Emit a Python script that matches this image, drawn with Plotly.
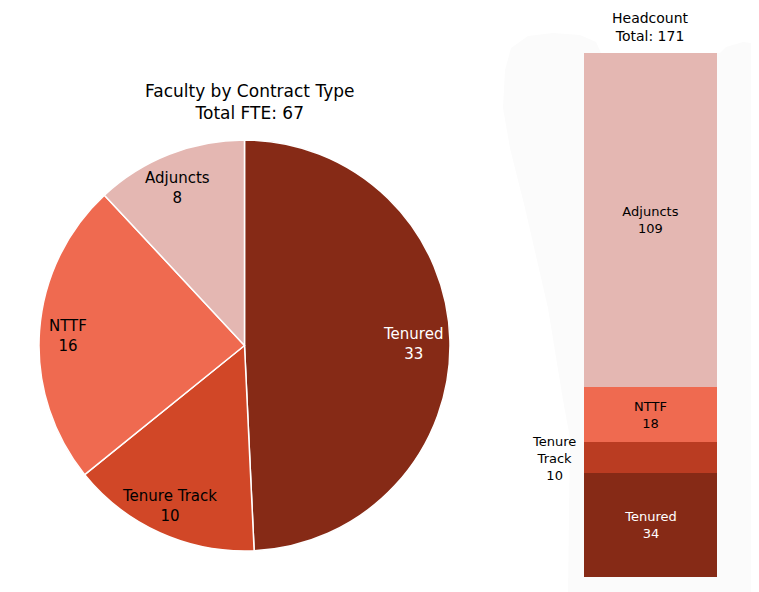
import math
import plotly.graph_objects as go

# FTE by contract type (pie)
fte_labels = ["Tenured", "Tenure Track", "NTTF", "Adjuncts"]
fte_values = [33, 10, 16, 8]
fte_colors = ["#862a16", "#d14727", "#ef6a50", "#e4b7b2"]
fte_text_colors = ["white", "black", "black", "black"]

# headcount by contract type (stacked bar)
hc_labels = ["Tenured", "Tenure Track", "NTTF", "Adjuncts"]
hc_values = [34, 10, 18, 109]
hc_colors = ["#862a16", "#ba3c22", "#ef6a50", "#e4b7b2"]
hc_text_colors = ["white", "black", "black", "black"]

font_family = "DejaVu Sans, Verdana, sans-serif"

# page has an 8px body margin, so the figure is 8px smaller than the window
W, H = 751, 584

def to_paper(x, y):
    return x / W, 1 - y / H

# pie placement (pixels within figure)
pie_left, pie_top, pie_size = 31, 132, 411
pie_dom_x = [pie_left / W, (pie_left + pie_size) / W]
pie_dom_y = [1 - (pie_top + pie_size) / H, 1 - pie_top / H]

fig = go.Figure()

fig.add_trace(go.Pie(
    labels=fte_labels, values=fte_values,
    marker=dict(colors=fte_colors, line=dict(color="white", width=1.5)),
    sort=False, direction="clockwise", rotation=0,
    textinfo="none",
    domain=dict(x=pie_dom_x, y=pie_dom_y),
    showlegend=False, hoverinfo="label+value",
))

# slice labels sit out toward the rim, at each slice's mid angle
cx = pie_left + pie_size / 2
cy = pie_top + pie_size / 2
rad = pie_size / 2 * 0.84
total_fte = sum(fte_values)
cum = 0
for lab, val, tcol in zip(fte_labels, fte_values, fte_text_colors):
    theta = 2 * math.pi * (cum + val / 2) / total_fte
    cum += val
    px, py = to_paper(cx + rad * math.sin(theta) - 4, cy - rad * math.cos(theta) + 3)
    fig.add_annotation(
        x=px, y=py, xref="paper", yref="paper", xanchor="center", yanchor="middle",
        text=f"{lab}<br>{val}", showarrow=False,
        font=dict(size=15, color=tcol, family=font_family),
    )

for lab, val, col, tcol in zip(hc_labels, hc_values, hc_colors, hc_text_colors):
    small = lab == "Tenure Track"
    fig.add_trace(go.Bar(
        x=["Headcount"], y=[val], name=lab,
        marker=dict(color=col, line=dict(width=0)),
        text=[] if small else [f"{lab}<br>{val}"],
        textposition="inside", insidetextanchor="middle", textangle=0,
        textfont=dict(color=tcol, size=13, family=font_family),
        showlegend=False, width=1,
    ))

# label for the thin tenure-track segment, placed beside the bar
tt_idx = hc_labels.index("Tenure Track")
tt_mid = sum(hc_values[:tt_idx]) + hc_values[tt_idx] / 2
fig.add_annotation(
    x="Headcount", y=tt_mid, xref="x", yref="y",
    text="Tenure<br>Track<br>" + str(hc_values[tt_idx]),
    showarrow=False, xanchor="center", yanchor="middle", xshift=-97, yshift=-1,
    font=dict(size=13, color="black", family=font_family),
)

tx, ty = to_paper(241, 94)
fig.add_annotation(
    x=tx, y=ty, xref="paper", yref="paper", xanchor="center", yanchor="middle",
    text="Faculty by Contract Type<br>Total FTE: " + str(total_fte),
    showarrow=False, font=dict(size=17, color="black", family=font_family),
)
hx, hy = to_paper(642, 19)
fig.add_annotation(
    x=hx, y=hy, xref="paper", yref="paper", xanchor="center", yanchor="middle",
    text="Headcount<br>Total: " + str(sum(hc_values)),
    showarrow=False, font=dict(size=14, color="black", family=font_family),
)

# faint grey backdrop behind the bar
blob = [(497, 62), (503, 40), (520, 28), (545, 25), (572, 27), (588, 34), (593, 45),
        (712, 45), (718, 39), (735, 34), (751, 36),
        (751, 584), (560, 584), (562, 430), (555, 392), (540, 300), (517, 200),
        (502, 140), (495, 100)]
path = "M " + " L ".join("{:.4f},{:.4f}".format(*to_paper(x, y)) for x, y in blob) + " Z"
fig.add_shape(type="path", path=path, xref="paper", yref="paper",
              fillcolor="#fbfbfb", line=dict(width=0), layer="below")

fig.update_layout(
    barmode="stack",
    width=W, height=H,
    margin=dict(l=0, r=0, t=0, b=0),
    paper_bgcolor="white", plot_bgcolor="rgba(0,0,0,0)",
    font=dict(family=font_family, size=14),
    xaxis=dict(domain=[576 / W, 709 / W], visible=False, range=[-0.5, 0.5]),
    yaxis=dict(domain=[1 - 569 / H, 1 - 45 / H], visible=False,
               range=[0, sum(hc_values)]),
    uniformtext=dict(minsize=13, mode="show"),
)

fig.write_html("out.html")
